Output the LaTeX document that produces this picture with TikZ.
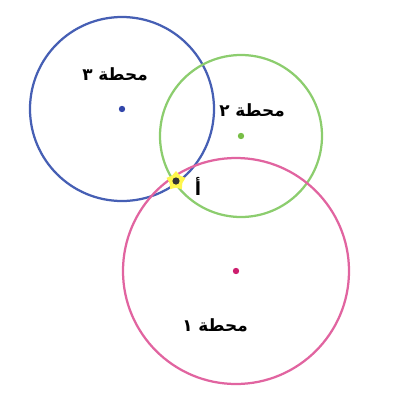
\documentclass[tikz,border=0pt]{standalone}
\usepackage{fontspec}
\newfontfamily\arabicfont[Script=Arabic]{DejaVu Sans}
\TeXXeTstate=1
\usetikzlibrary{shapes.geometric}
\definecolor{bluering}{RGB}{70,95,180}
\definecolor{greenring}{RGB}{140,205,110}
\definecolor{pinkring}{RGB}{225,100,160}
\definecolor{pinkdot}{RGB}{205,30,110}
\definecolor{bluedot}{RGB}{50,70,170}
\definecolor{greendot}{RGB}{120,190,70}
\tikzset{
    ring/.style={circle, draw=#1, line width=1.6pt, inner sep=0pt},
    centre/.style={circle, fill=#1, inner sep=0pt, minimum size=1.6mm},
    station/.style={font=\arabicfont\bfseries\fontsize{12}{14}\selectfont, inner sep=1pt}
}

\begin{document}
\begin{tikzpicture}[x=0.025cm, y=-0.025cm]
    \useasboundingbox (0,0) rectangle (400,410);

    % the three stations
    \node[ring=bluering, minimum size=184*0.025cm] (r3) at (122,109) {};
    \node[ring=greenring, minimum size=162*0.025cm] (r2) at (241,136) {};
    \node[ring=pinkring, minimum size=226*0.025cm] (r1) at (236,271) {};

    \node[centre=bluedot] (c3) at (122,109) {};
    \node[centre=greendot] (c2) at (241,136) {};
    \node[centre=pinkdot] (c1) at (236,271) {};

    \node[station] (s3) at (115,74) {\beginR محطة ٣\endR};
    \node[station] (s2) at (252,110) {\beginR محطة ٢\endR};
    \node[station] (s1) at (215,325) {\beginR محطة ١\endR};

    % the meeting point
    \node[star, star points=5, fill=yellow!70, inner sep=0pt, minimum size=5mm] (glow) at (176,181) {};
    \node[circle, fill=black!80, inner sep=0pt, minimum size=1.8mm] (a) at (176,181) {};
    \node[font=\arabicfont\bfseries\fontsize{13}{15}\selectfont] (la) at (198,186) {أ};
\end{tikzpicture}
\end{document}
